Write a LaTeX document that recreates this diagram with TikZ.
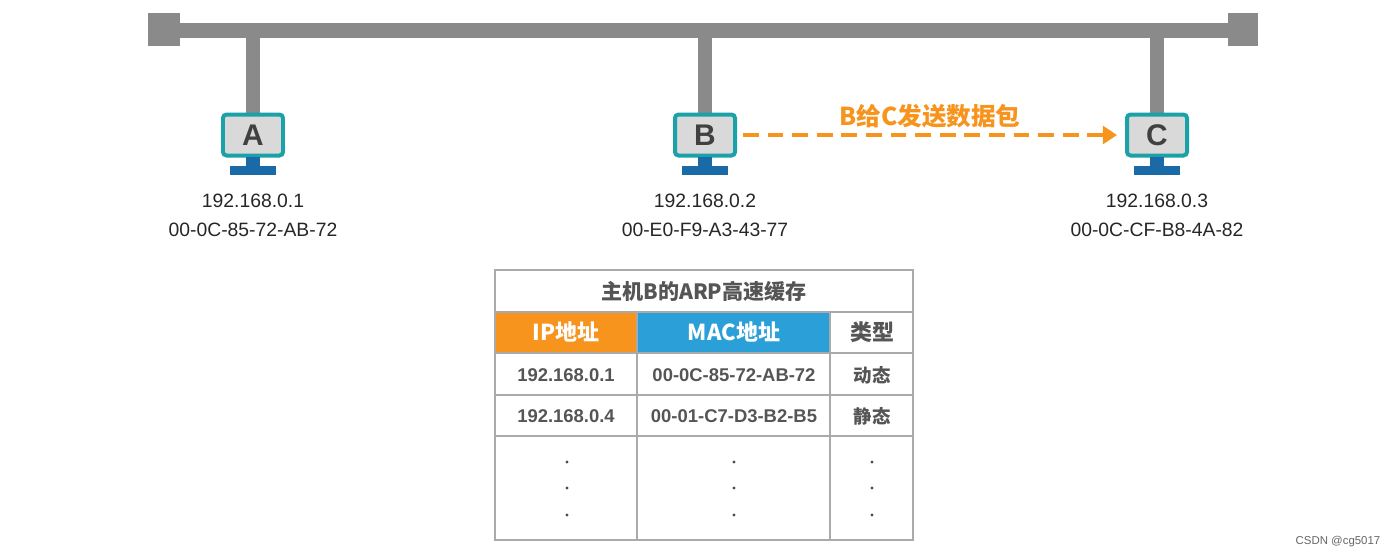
\documentclass[tikz,border=0pt]{standalone}
\usepackage{fontspec}
\setmainfont{Liberation Sans}
\newfontfamily\cjk{Noto Sans CJK SC}
\usetikzlibrary{arrows.meta}
\definecolor{bus}{HTML}{8A8A8A}
\definecolor{teal}{HTML}{1BA1A8}
\definecolor{scr}{HTML}{D9D9D9}
\definecolor{stand}{HTML}{1A6AA8}
\definecolor{org}{HTML}{F7941D}
\definecolor{blu}{HTML}{2A9FD8}
\definecolor{txt}{HTML}{555555}
\definecolor{grid}{HTML}{AAAAAA}
\begin{document}
\begin{tikzpicture}[x=0.02cm,y=-0.02cm,
  lbl/.style={font=\fontsize{11}{13}\selectfont, text=black!85},
  cell/.style={font=\bfseries\fontsize{10.5}{12}\selectfont, text=txt},
  head/.style={font=\bfseries\fontsize{12}{14}\selectfont}]
\useasboundingbox (0,0) rectangle (1395,559);
% bus
\fill[bus] (160,23) rectangle (1240,38);
\fill[bus] (148,13) rectangle (180,46);
\fill[bus] (1228,13) rectangle (1258,46);
\foreach \n/\x/\ip/\mac in {A/253/192.168.0.1/00-0C-85-72-AB-72, B/705/192.168.0.2/00-E0-F9-A3-43-77, C/1157/192.168.0.3/00-0C-CF-B8-4A-82}{
  \fill[bus] (\x-7,30) rectangle (\x+7,115);
  \node[draw=teal, line width=4pt*0.567, fill=scr, rounded corners=2pt, minimum width=60*0.02cm, minimum height=41*0.02cm, inner sep=0pt,
     font=\bfseries\fontsize{17}{17}\selectfont, text=black!75] (m\n) at (\x,135) {\n};
  \fill[stand] (\x-7,157) rectangle (\x+7,166);
  \fill[stand] (\x-23,166) rectangle (\x+23,175);
  \node[lbl] (ip\n) at (\x,201) {\ip};
  \node[lbl] (mac\n) at (\x,230) {\mac};
}
\draw[org, line width=3pt*0.567*1.2, dash pattern=on 9pt off 5pt, -{Triangle[length=8pt,width=10pt]}] ([xshift=6*0.02cm]mB.east) -- ([xshift=-8*0.02cm]mC.west);
\node[text=org, font=\cjk\bfseries\fontsize{14}{16}\selectfont] (lab) at (930,116) {B给C发送数据包};
% table
\fill[org] (495,312) rectangle (637,353);
\fill[blu] (637,312) rectangle (830,353);
\draw[grid, line width=1pt] (495,270) rectangle (913,540);
\foreach \y in {312,353,395,436} \draw[grid, line width=1pt] (495,\y) -- (913,\y);
\draw[grid, line width=1pt] (637,312) -- (637,540);
\draw[grid, line width=1pt] (830,312) -- (830,540);
\node[head, text=txt, font=\cjk\bfseries\fontsize{12}{14}\selectfont] (title) at (704,291) {主机B的ARP高速缓存};
\node[head, text=white, font=\cjk\bfseries\fontsize{12.5}{14}\selectfont] (h1) at (566,332) {IP地址};
\node[head, text=white, font=\cjk\bfseries\fontsize{12.5}{14}\selectfont] (h2) at (734,332) {MAC地址};
\node[text=txt, font=\cjk\bfseries\fontsize{12.5}{14}\selectfont] (h3) at (872,332) {类型};
\node[cell] (r1a) at (566,375) {192.168.0.1};
\node[cell] (r1b) at (734,375) {00-0C-85-72-AB-72};
\node[cell, font=\cjk\bfseries\fontsize{10.5}{12}\selectfont] (r1c) at (872,375) {动态};
\node[cell] (r2a) at (566,416) {192.168.0.4};
\node[cell] (r2b) at (734,416) {00-01-C7-D3-B2-B5};
\node[cell, font=\cjk\bfseries\fontsize{10.5}{12}\selectfont] (r2c) at (872,416) {静态};
\foreach \x in {567,734,872} \foreach \y in {462,488,515} \fill[black!70] (\x,\y) circle (0.9pt);
\node[font=\fontsize{6.5}{8}\selectfont, text=black!60] (csdn) at (1338,542) {CSDN @cg5017};
\end{tikzpicture}
\end{document}
